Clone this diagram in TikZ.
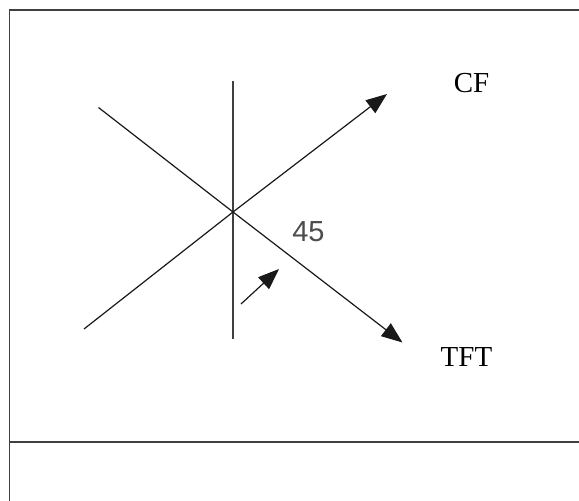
\documentclass[tikz,border=0pt]{standalone}
\usepackage{fontspec}
\setmainfont{Liberation Serif}
\newfontfamily\digitfont{Liberation Sans}
\usetikzlibrary{arrows.meta}
\tikzset{
	frameline/.style={line width=1.7pt, black!75},
	axisline/.style={line width=1.5pt, black!75},
	vecline/.style={line width=1.2pt, black!90, -{Triangle[length=21pt,width=16pt]}},
	lbl/.style={inner sep=0pt, font=\fontsize{29}{34}\selectfont}
}
\begin{document}
\begin{tikzpicture}[x=1pt, y=-1pt]
			\useasboundingbox (0,0) rectangle (579,501);
			\fill[white] (0,0) rectangle (579,501);
			% outline
			\draw[frameline] (579,10) -- (9.5,10) -- (9.5,501);
			\draw[frameline] (9.5,442) -- (579,442);
			% lines through the crossing
			\coordinate (O) at (233,212);
			\coordinate (vtop) at (233,81);
			\coordinate (vbot) at (233,339);
			\coordinate (nw) at (98.5,107.5);
			\coordinate (se) at (402.5,342.5);
			\coordinate (sw) at (84,329);
			\coordinate (ne) at (387,94);
			\coordinate (s1) at (241,304);
			\coordinate (s2) at (279,269);
			\draw[axisline] (vtop) -- (vbot);
			\draw[vecline] (nw) -- (O) -- (se);
			\draw[vecline] (sw) -- (O) -- (ne);
			\draw[vecline] (s1) -- (s2);
			% labels
			\node[lbl] (cf) at (471.5,83.5) {CF};
			\node[lbl] (tft) at (466.5,357) {TFT};
			\node[lbl, font=\fontsize{29}{34}\digitfont, text=black!70] (ang) at (308.5,231.5) {45};
		\end{tikzpicture}
\end{document}
